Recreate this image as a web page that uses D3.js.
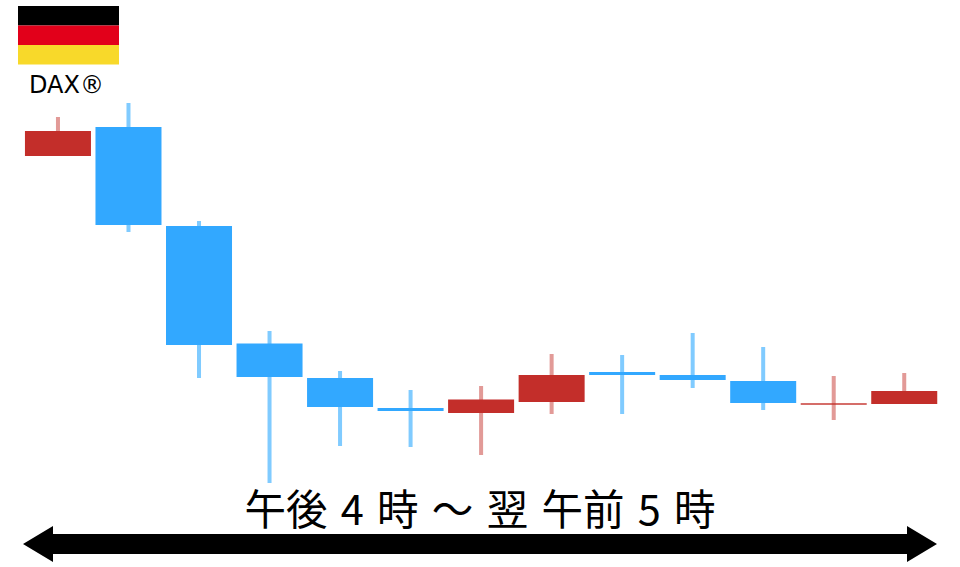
<!DOCTYPE html>
<html>
<head>
<meta charset="utf-8">
<script src="https://cdn.jsdelivr.net/npm/d3@7"></script>
<style>
  html, body { margin: 0; padding: 0; background: #fff; }
  svg { display: block; }
  text { fill: #000; }
</style>
</head>
<body>
<div id="chart"></div>
<script>
// no price axis in the picture, so values are in arbitrary units read off the candles
const hours = ["16", "17", "18", "19", "20", "21", "22", "23", "0", "1", "2", "3", "4"];
const open = [344, 373, 274, 156.5, 122, 92, 87, 98, 128, 125, 119, 95.3, 96];
const close = [369, 275, 155, 123, 93, 89, 100.5, 125, 125, 120, 97, 96.7, 109];
const high = [383, 397, 279, 169, 129, 110, 114, 146, 145, 167, 153, 124, 127];
const low = [344, 268, 122, 17, 54, 53, 45, 86, 86, 112, 90, 80, 96];

const flagStripes = ["#000000", "#e2001a", "#f8d92a"];
const indexName = "DAX®";
const timeRange = "午後 4 時 ～ 翌 午前 5 時";

const width = 960, height = 567;
const candleUp = "#c32f2a", candleDown = "#33a8ff";
const wickUp = "#e29a97", wickDown = "#80cbff";

const svg = d3.select("#chart").append("svg")
    .attr("width", width)
    .attr("height", height);

// reference is a scaled up bitmap, so soften the candles a little
svg.append("defs").append("filter")
    .attr("id", "soft")
    .append("feGaussianBlur")
    .attr("stdDeviation", 0.5);

const xScale = d3.scaleBand()
    .domain(hours)
    .range([22.7, 939.5])
    .paddingInner(0.064)
    .paddingOuter(0.032);
const yScale = d3.scaleLinear()
    .domain([0, 500])
    .range([500, 0]);

const candles = hours.map((h, i) => ({
    hour: h, open: open[i], close: close[i], high: high[i], low: low[i],
    up: close[i] > open[i]
}));

const plot = svg.append("g")
    .attr("class", "candles")
    .attr("filter", "url(#soft)");

plot.selectAll(".wick")
    .data(candles)
    .join("rect")
    .attr("class", "wick")
    .attr("x", d => xScale(d.hour) + xScale.bandwidth() / 2 - 2)
    .attr("width", 4)
    .attr("y", d => yScale(d.high))
    .attr("height", d => yScale(d.low) - yScale(d.high))
    .attr("fill", d => d.up ? wickUp : wickDown);

plot.selectAll(".body")
    .data(candles)
    .join("rect")
    .attr("class", "body")
    .attr("x", d => xScale(d.hour))
    .attr("width", xScale.bandwidth())
    .attr("y", d => yScale(Math.max(d.open, d.close)))
    .attr("height", d => Math.abs(yScale(d.open) - yScale(d.close)))
    .attr("fill", d => d.up ? candleUp : candleDown);

// flag
const flagY = d3.scaleBand().domain(d3.range(flagStripes.length)).range([6, 64.5]);
svg.append("g").attr("class", "flag")
    .selectAll("rect")
    .data(flagStripes)
    .join("rect")
    .attr("x", 18)
    .attr("width", 101)
    .attr("y", (d, i) => flagY(i))
    .attr("height", flagY.bandwidth())
    .attr("fill", d => d);

svg.append("text")
    .attr("x", 66.5)
    .attr("y", 93)
    .attr("text-anchor", "middle")
    .attr("font-family", "'DejaVu Sans', sans-serif")
    .attr("font-size", 24)
    .text(indexName);

svg.append("text")
    .attr("x", 480)
    .attr("y", 525)
    .attr("text-anchor", "middle")
    .attr("font-family", "'Noto Sans CJK JP', sans-serif")
    .attr("font-size", 41.5)
    .attr("word-spacing", 4)
    .text(timeRange);

// double headed arrow under the candles
const arrow = d3.path();
arrow.moveTo(23, 544);
arrow.lineTo(53, 526);
arrow.lineTo(53, 534);
arrow.lineTo(907, 534);
arrow.lineTo(907, 526);
arrow.lineTo(937, 544);
arrow.lineTo(907, 562);
arrow.lineTo(907, 554);
arrow.lineTo(53, 554);
arrow.lineTo(53, 562);
arrow.closePath();
svg.append("path")
    .attr("class", "arrow")
    .attr("d", arrow.toString())
    .attr("fill", "#000");
</script>
</body>
</html>
